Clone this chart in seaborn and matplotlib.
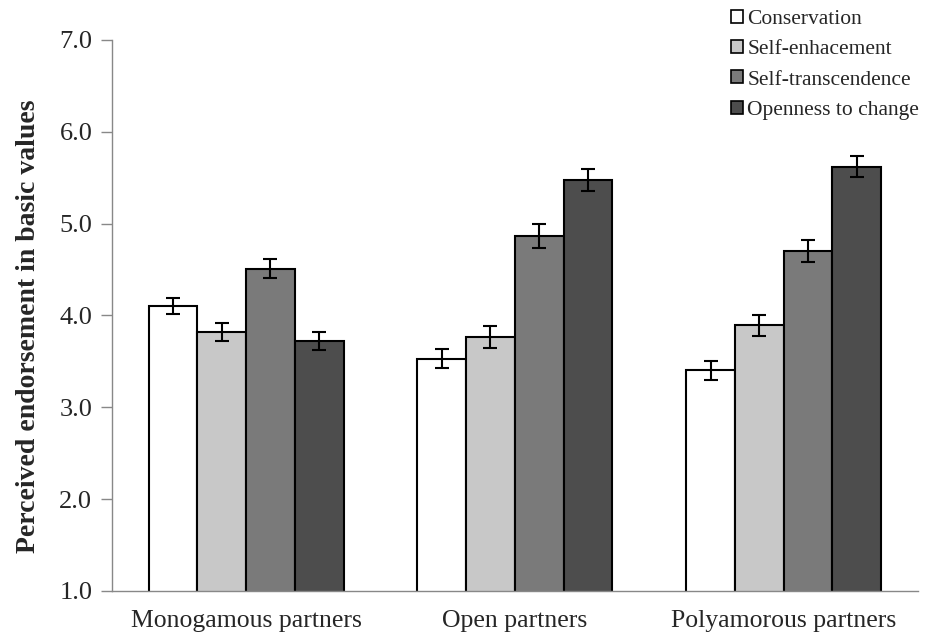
import numpy as np
import pandas as pd
import seaborn as sns
import matplotlib.pyplot as plt

groups = ['Monogamous partners', 'Open partners', 'Polyamorous partners']
values_names = ['Conservation', 'Self-enhacement', 'Self-transcendence', 'Openness to change']
means = {
    'Conservation':       [4.10, 3.53, 3.40],
    'Self-enhacement':    [3.82, 3.76, 3.89],
    'Self-transcendence': [4.51, 4.86, 4.70],
    'Openness to change': [3.72, 5.47, 5.62],
}
errs = {
    'Conservation':       [0.09, 0.10, 0.10],
    'Self-enhacement':    [0.10, 0.12, 0.11],
    'Self-transcendence': [0.10, 0.13, 0.12],
    'Openness to change': [0.10, 0.12, 0.11],
}
colors = ['#ffffff', '#c8c8c8', '#7a7a7a', '#4d4d4d']

rows = []
for v in values_names:
    for g, m in zip(groups, means[v]):
        rows.append({'group': g, 'value': v, 'mean': m})
df = pd.DataFrame(rows)

sns.set_style('white')
plt.rcParams['font.family'] = ['Liberation Serif', 'DejaVu Serif']

fig = plt.figure(figsize=(9.31, 6.32), dpi=100)
ax = fig.add_axes([0.120, 0.065, 0.866, 0.872])

sns.barplot(data=df, x='group', y='mean', hue='value', order=groups,
            hue_order=values_names, palette=colors, edgecolor='black',
            linewidth=1.5, width=0.725, gap=0, ax=ax, errorbar=None)

# error bars on top of each bar
for cont, v in zip(ax.containers, values_names):
    xs = [b.get_x() + b.get_width() / 2 for b in cont]
    ax.errorbar(xs, means[v], yerr=errs[v], fmt='none', ecolor='black',
                elinewidth=1.5, capsize=5, capthick=1.5, zorder=5)

ax.set_ylim(1, 7)
ax.set_xlim(-0.5, 2.5)
ax.set_yticks(np.arange(1, 8, 1))
ax.set_yticklabels([f'{t:.1f}' for t in np.arange(1, 8, 1)], fontsize=19)
ax.tick_params(axis='x', labelsize=18.5, length=0, pad=14)
ax.tick_params(axis='y', length=8, color='#888888', width=1, left=True, pad=6)
ax.set_xlabel('')
ax.set_ylabel('Perceived endorsement in basic values', fontsize=20,
              fontweight='bold')
ax.yaxis.set_label_coords(-0.088, 0.48)

for s in ['top', 'right']:
    ax.spines[s].set_visible(False)
for s in ['left', 'bottom']:
    ax.spines[s].set_color('#888888')
    ax.spines[s].set_linewidth(1)

leg = ax.legend(loc='upper right', bbox_to_anchor=(1.012, 1.07), frameon=False,
                fontsize=15.5, handlelength=0.55, handleheight=0.55,
                handletextpad=0.2, labelspacing=0.52, borderaxespad=0)
for h in leg.legend_handles:
    h.set_edgecolor('black')
    h.set_linewidth(1.2)

fig.savefig('out.png', dpi=100)
